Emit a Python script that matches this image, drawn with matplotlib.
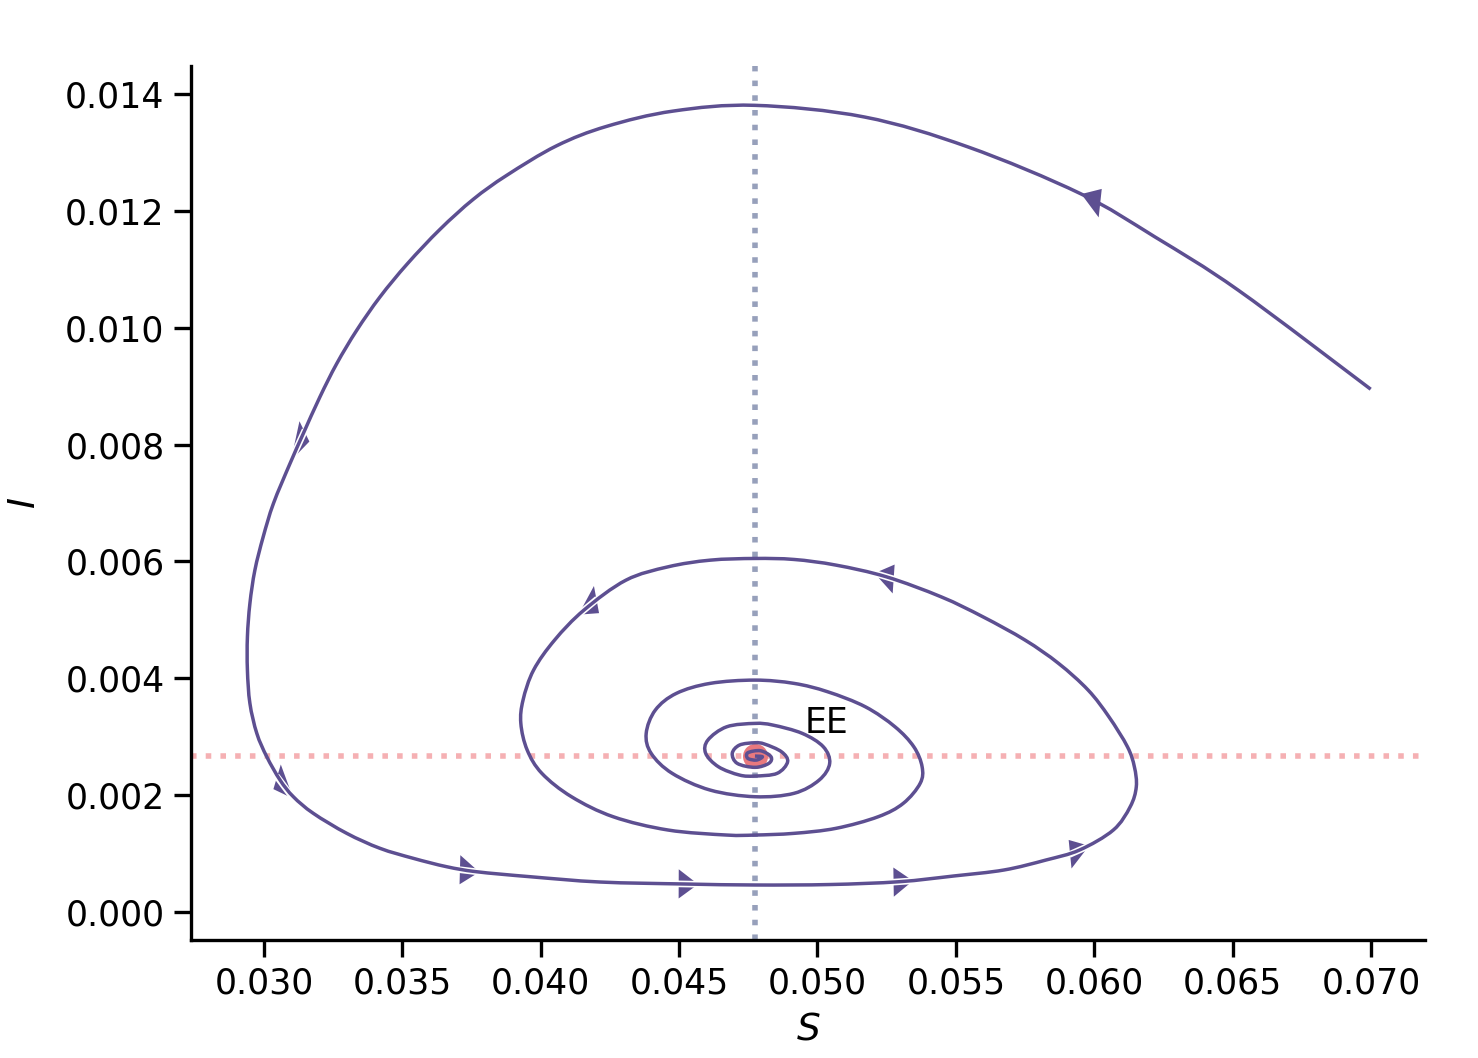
import numpy as np
import matplotlib
matplotlib.use('Agg')
import matplotlib.pyplot as plt
from matplotlib.patches import Polygon, PathPatch
from matplotlib.path import Path
from matplotlib.lines import Line2D
from matplotlib.ticker import FormatStrFormatter

# ---- data ----
S_traj = [0.06999, 0.06521, 0.06220, 0.05950, 0.05545, 0.05170, 0.04774, 0.04479, 0.04238, 0.04057,
          0.03877, 0.03756, 0.03636, 0.03518, 0.03419, 0.03335, 0.03263, 0.03202, 0.03142, 0.03094,
          0.03034, 0.02997, 0.02967, 0.02949, 0.02940, 0.02940, 0.02949, 0.02974, 0.03010, 0.03058,
          0.03106, 0.03178, 0.03299, 0.03419, 0.03539, 0.03660, 0.03768, 0.03961, 0.04214, 0.04521,
          0.04774, 0.05045, 0.05295, 0.05492, 0.05674, 0.05826, 0.05947, 0.06069, 0.06130, 0.06152,
          0.06145, 0.06120, 0.06053, 0.05978, 0.05871, 0.05750, 0.05598, 0.05447, 0.05249, 0.05067,
          0.04915, 0.04774, 0.04612, 0.04460, 0.04308, 0.04156, 0.04050, 0.03974, 0.03936, 0.03928,
          0.03951, 0.04004, 0.04111, 0.04262, 0.04460, 0.04672, 0.04774, 0.04915, 0.05067, 0.05219,
          0.05310, 0.05371, 0.05378, 0.05348, 0.05280, 0.05173, 0.05037, 0.04915, 0.04774, 0.04612,
          0.04490, 0.04414, 0.04381, 0.04399, 0.04475, 0.04612, 0.04774, 0.04915, 0.05006, 0.05044,
          0.05021, 0.04945, 0.04839, 0.04774, 0.04672, 0.04604, 0.04596, 0.04642, 0.04718, 0.04774,
          0.04854, 0.04892, 0.04870, 0.04809, 0.04774, 0.04718, 0.04692, 0.04710, 0.04774, 0.04824,
          0.04832, 0.04794, 0.04748, 0.04748, 0.04779, 0.04801, 0.04774]
I_traj = [0.008948, 0.010641, 0.011553, 0.012296, 0.013093, 0.013607, 0.013807, 0.013709, 0.013447, 0.013114,
          0.012609, 0.012198, 0.011685, 0.011095, 0.010527, 0.009957, 0.009388, 0.008816, 0.008190, 0.007677,
          0.006992, 0.006421, 0.005851, 0.005281, 0.004710, 0.004140, 0.003571, 0.003057, 0.002657, 0.002258,
          0.001973, 0.001689, 0.001346, 0.001090, 0.000919, 0.000775, 0.000689, 0.000604, 0.000513, 0.000479,
          0.000462, 0.000470, 0.000518, 0.000616, 0.000719, 0.000890, 0.001061, 0.001403, 0.001802, 0.002144,
          0.002486, 0.002828, 0.003341, 0.003798, 0.004255, 0.004654, 0.005052, 0.005394, 0.005737, 0.005937,
          0.006034, 0.006051, 0.006022, 0.005908, 0.005680, 0.005167, 0.004654, 0.004140, 0.003627, 0.003228,
          0.002772, 0.002373, 0.001973, 0.001630, 0.001403, 0.001317, 0.001317, 0.001346, 0.001432, 0.001630,
          0.001860, 0.002202, 0.002486, 0.002828, 0.003170, 0.003512, 0.003769, 0.003913, 0.003969, 0.003913,
          0.003742, 0.003456, 0.003057, 0.002715, 0.002373, 0.002087, 0.001973, 0.002031, 0.002258, 0.002544,
          0.002828, 0.003057, 0.003199, 0.003228, 0.003170, 0.002943, 0.002715, 0.002486, 0.002344, 0.002327,
          0.002373, 0.002571, 0.002742, 0.002874, 0.002897, 0.002857, 0.002715, 0.002544, 0.002476, 0.002544,
          0.002657, 0.002760, 0.002725, 0.002630, 0.002600, 0.002657, 0.002669]

S_eq = 0.04774
I_eq = 0.002669
eq_label = "EE"

arrow_S = [0.05984, 0.03116, 0.03090, 0.03744, 0.04532, 0.05309, 0.05955, 0.05240, 0.04171]
arrow_I = [0.012181, 0.007990, 0.002173, 0.000736, 0.000479, 0.000547, 0.000975, 0.005749, 0.005201]

x_ticks = [0.030, 0.035, 0.040, 0.045, 0.050, 0.055, 0.060, 0.065, 0.070]
y_ticks = [0.000, 0.002, 0.004, 0.006, 0.008, 0.010, 0.012, 0.014]

# ---- style ----
LINE_C = '#5d4f91'
VLINE_C = '#97a0bb'
HLINE_C = '#f5b0b3'
EQ_C = '#e8797e'
HEAD_LEN = 0.0007    # arrow head length, data units
HEAD_WID = 0.0005    # arrow head width, data units

plt.rcParams['font.family'] = ['DejaVu Sans']

fig = plt.figure(figsize=(7.39, 5.29), dpi=200)
ax = fig.add_axes([0.1292, 0.1115, 0.8349, 0.8261])
ax.set_xlim(0.02736, 0.07195)
ax.set_ylim(-0.00048, 0.01448)

ax.axvline(S_eq, color=VLINE_C, ls=':', lw=2, zorder=1)
ax.axhline(I_eq, color=HLINE_C, ls=':', lw=2, zorder=1)
ax.plot([S_eq], [I_eq], 'o', ms=8, color=EQ_C, zorder=2)


def smooth_path(xs, ys):
    """Catmull-Rom through the given points, drawn as cubic Bezier segments."""
    P = np.column_stack([xs, ys])
    n = len(P)
    verts = [P[0]]
    codes = [Path.MOVETO]
    for i in range(n - 1):
        p0 = P[max(i - 1, 0)]
        p1 = P[i]
        p2 = P[i + 1]
        p3 = P[min(i + 2, n - 1)]
        c1 = p1 + (p2 - p0) / 6.0
        c2 = p2 - (p3 - p1) / 6.0
        verts += [c1, c2, p2]
        codes += [Path.CURVE4] * 3
    return Path(np.array(verts), codes)


traj_path = smooth_path(S_traj, I_traj)
ax.add_patch(PathPatch(traj_path, facecolor='none', edgecolor=LINE_C, lw=1.25,
                       zorder=6, joinstyle='round'))
ax.plot(S_traj, I_traj, lw=0, alpha=0)  # keep data registered with axes

ax.text(0.04955, 0.003063, eq_label, fontsize=12.5, ha='left', va='baseline')

# arrow heads along the trajectory (shape defined in data units, like ax.arrow)
fine = traj_path.interpolated(30).vertices
fine_px = ax.transData.transform(fine)
apts_px = ax.transData.transform(np.column_stack([arrow_S, arrow_I]))
for k, (cx, cy) in enumerate(apts_px):
    d = np.hypot(fine_px[:, 0] - cx, fine_px[:, 1] - cy)
    i = int(np.argmin(d))
    i0, i1 = max(i - 3, 0), min(i + 3, len(fine) - 1)
    t = fine[i1] - fine[i0]
    t = t / np.hypot(*t)
    n = np.array([-t[1], t[0]])
    c = fine[i]
    tip = c + t * HEAD_LEN / 2
    b1 = c - t * HEAD_LEN / 2 + n * HEAD_WID / 2
    b2 = c - t * HEAD_LEN / 2 - n * HEAD_WID / 2
    ax.add_patch(Polygon([tip, b1, b2], closed=True, facecolor=LINE_C,
                         edgecolor='none', zorder=4, clip_on=False))
    if k > 0:
        seg = np.array([c - t * HEAD_LEN * 0.55, c + t * HEAD_LEN * 0.55])
        ax.add_line(Line2D(seg[:, 0], seg[:, 1], color='white', lw=2.4,
                           zorder=5, solid_capstyle='butt'))

ax.set_xticks(x_ticks)
ax.set_yticks(y_ticks)
ax.xaxis.set_major_formatter(FormatStrFormatter('%.3f'))
ax.yaxis.set_major_formatter(FormatStrFormatter('%.3f'))
ax.tick_params(labelsize=12.5, length=6, width=1.2)
for s in ['top', 'right']:
    ax.spines[s].set_visible(False)
for s in ['left', 'bottom']:
    ax.spines[s].set_linewidth(1.2)
ax.set_xlabel('$S$', fontsize=13.5, labelpad=4)
ax.set_ylabel('$I$', fontsize=13.5, labelpad=8)

fig.savefig('out.png', dpi=200)
